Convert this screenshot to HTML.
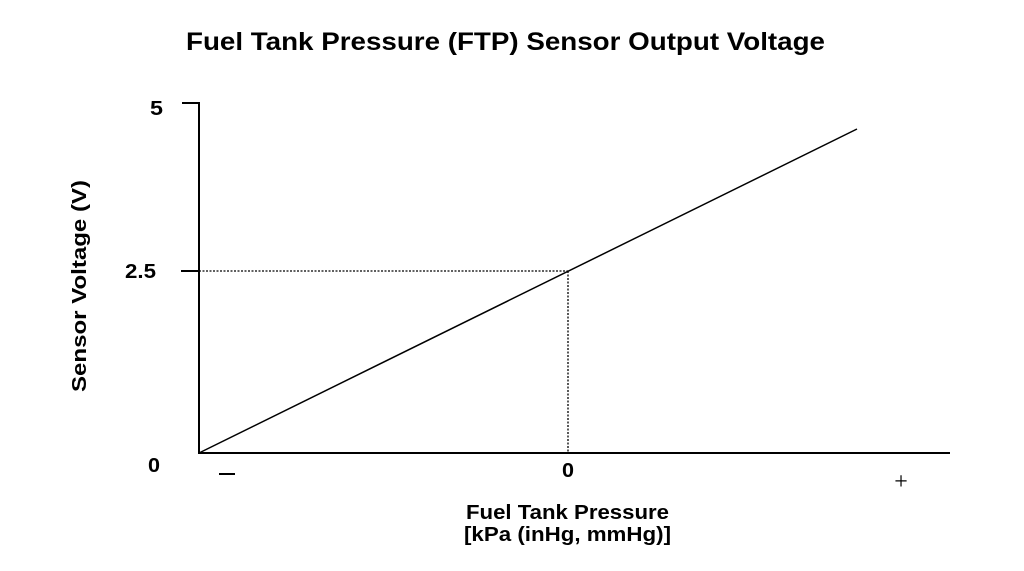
<!DOCTYPE html>
<html><head><style>body{margin:0;background:#fff}</style></head><body>
<svg width="1024" height="566" xmlns="http://www.w3.org/2000/svg" font-family="Liberation Sans, Arial, sans-serif" font-weight="bold">
<rect width="1024" height="566" fill="#fff"/>
<text x="186" y="50" font-size="25" textLength="639" lengthAdjust="spacingAndGlyphs">Fuel Tank Pressure (FTP) Sensor Output Voltage</text>
<path d="M182 103H199V453H950" fill="none" stroke="#000" stroke-width="2"/>
<line x1="181" y1="271" x2="199" y2="271" stroke="#000" stroke-width="2"/>
<line x1="199" y1="271" x2="568" y2="271" stroke="#000" stroke-width="1.3" stroke-dasharray="2,1.5"/>
<line x1="568" y1="271" x2="568" y2="453" stroke="#000" stroke-width="1.3" stroke-dasharray="2,1.5"/>
<line x1="199" y1="453" x2="857" y2="129" stroke="#000" stroke-width="1.5"/>
<text x="150" y="115" font-size="20" textLength="13" lengthAdjust="spacingAndGlyphs">5</text>
<text x="125" y="278" font-size="20" textLength="31" lengthAdjust="spacingAndGlyphs">2.5</text>
<text x="148" y="472" font-size="20" textLength="12" lengthAdjust="spacingAndGlyphs">0</text>
<text x="562" y="477" font-size="20" textLength="12" lengthAdjust="spacingAndGlyphs">0</text>
<line x1="219" y1="474" x2="235" y2="474" stroke="#000" stroke-width="2"/>
<text x="901" y="489" font-size="24" font-weight="normal" font-family="Liberation Serif, serif" text-anchor="middle">+</text>
<text x="466" y="519" font-size="20" textLength="203" lengthAdjust="spacingAndGlyphs">Fuel Tank Pressure</text>
<text x="464" y="541" font-size="20" textLength="207" lengthAdjust="spacingAndGlyphs">[kPa (inHg, mmHg)]</text>
<text transform="translate(86,392) rotate(-90)" font-size="20" textLength="212" lengthAdjust="spacingAndGlyphs">Sensor Voltage (V)</text>
</svg>
</body></html>
